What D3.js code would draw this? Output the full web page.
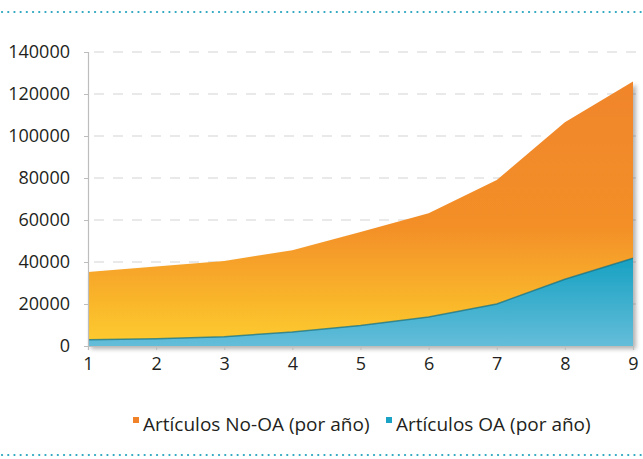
<!DOCTYPE html>
<html>
<head>
<meta charset="utf-8">
<script src="https://cdn.jsdelivr.net/npm/d3@7"></script>
<style>
body { margin: 0; background: #fff; }
text { font-family: "Open Sans", "Noto Sans", sans-serif; fill: #231f20; }
</style>
</head>
<body>
<svg id="viz"></svg>
<script>
var width = 643;
var height = 459;

// data
var years = [1, 2, 3, 4, 5, 6, 7, 8, 9];
var oaArticles = [3000, 3400, 4400, 6700, 9800, 13800, 20000, 31800, 41800];
var totalArticles = [35200, 37800, 40500, 45600, 54300, 63200, 79000, 106500, 126000];
var yTicks = [0, 20000, 40000, 60000, 80000, 100000, 120000, 140000];
var legendLabels = ["Artículos No-OA (por año)", "Artículos OA (por año)"];

var margin = {top: 52, right: 10, bottom: 113, left: 88};

var svg = d3.select("#viz")
    .attr("width", width)
    .attr("height", height);

var defs = svg.append("defs");

var gOrange = defs.append("linearGradient")
    .attr("id", "gradOrange")
    .attr("gradientUnits", "userSpaceOnUse")
    .attr("x1", 0).attr("x2", 0).attr("y1", 80).attr("y2", 346);
gOrange.append("stop").attr("offset", "0%").attr("stop-color", "#f0852a");
gOrange.append("stop").attr("offset", "55%").attr("stop-color", "#f38f28");
gOrange.append("stop").attr("offset", "100%").attr("stop-color", "#fdcd2e");

var gBlue = defs.append("linearGradient")
    .attr("id", "gradBlue")
    .attr("gradientUnits", "userSpaceOnUse")
    .attr("x1", 0).attr("x2", 0).attr("y1", 255).attr("y2", 346);
gBlue.append("stop").attr("offset", "0%").attr("stop-color", "#14a0c2");
gBlue.append("stop").attr("offset", "100%").attr("stop-color", "#64bdd9");

var shadow = defs.append("filter").attr("id", "shadow")
    .attr("x", "-5%").attr("y", "-5%").attr("width", "115%").attr("height", "115%");
shadow.append("feDropShadow")
    .attr("dx", 3).attr("dy", 3).attr("stdDeviation", 2)
    .attr("flood-color", "#000").attr("flood-opacity", 0.3);

var x = d3.scaleLinear()
    .domain([1, 9])
    .range([margin.left, 633]);

var y = d3.scaleLinear()
    .domain([0, 140000])
    .range([346, margin.top]);

// dotted frame lines
[12, 455].forEach(function (yy) {
    svg.append("line")
        .attr("x1", 2).attr("x2", width)
        .attr("y1", yy).attr("y2", yy)
        .attr("stroke", "#2aa6bf")
        .attr("stroke-width", 2.2)
        .attr("stroke-linecap", "round")
        .attr("stroke-dasharray", "0.1 6.1");
});

// grid
svg.append("g").selectAll("line")
    .data(yTicks.filter(function (d) { return d > 0; }))
    .enter().append("line")
    .attr("x1", x(1) + 6).attr("x2", width)
    .attr("y1", function (d) { return y(d); })
    .attr("y2", function (d) { return y(d); })
    .attr("stroke", "#d4d4d4")
    .attr("stroke-width", 1.2)
    .attr("stroke-dasharray", "10 9");

// areas
var total = years.map(function (d, i) { return {x: d, y: totalArticles[i]}; });
var oa = years.map(function (d, i) { return {x: d, y: oaArticles[i]}; });

var area = d3.area()
    .x(function (d) { return x(d.x); })
    .y0(y(0))
    .y1(function (d) { return y(d.y); });

var areas = svg.append("g").attr("filter", "url(#shadow)");

areas.append("path")
    .datum(total)
    .attr("d", area)
    .attr("fill", "url(#gradOrange)");

areas.append("path")
    .datum(oa)
    .attr("d", area)
    .attr("fill", "url(#gradBlue)");

var line = d3.line()
    .x(function (d) { return x(d.x); })
    .y(function (d) { return y(d.y); });

areas.append("path")
    .datum(oa)
    .attr("d", line)
    .attr("fill", "none")
    .attr("stroke", "#0f6f86")
    .attr("stroke-width", 1.5)
    .attr("opacity", 0.7);

// axes
var yAxis = d3.axisLeft(y)
    .tickValues(yTicks)
    .tickSize(4)
    .tickPadding(14)
    .tickFormat(d3.format("d"));

var yg = svg.append("g")
    .attr("transform", "translate(" + margin.left + ",0)")
    .call(yAxis);
yg.select(".domain").attr("stroke", "#bdbdbd").attr("stroke-width", 1.2);
yg.selectAll(".tick line").attr("stroke", "#bdbdbd");
yg.selectAll("text").style("font-size", "18px").attr("fill", "#231f20");

var xAxis = d3.axisBottom(x)
    .tickValues(years)
    .tickSize(4)
    .tickPadding(7)
    .tickFormat(d3.format("d"));

var xg = svg.append("g")
    .attr("transform", "translate(0," + y(0) + ")")
    .call(xAxis);
xg.select(".domain").attr("stroke", "#bdbdbd").attr("stroke-width", 1.2);
xg.selectAll(".tick line").attr("stroke", "#bdbdbd");
xg.selectAll("text").style("font-size", "18px").attr("fill", "#231f20");

// legend
var legendColors = ["#f0822a", "#1aa3c4"];
var legendX = [133, 386];

var legend = svg.append("g").selectAll("g")
    .data(legendLabels)
    .enter().append("g")
    .attr("transform", function (d, i) { return "translate(" + legendX[i] + ",417)"; });

legend.append("rect")
    .attr("width", 6).attr("height", 6)
    .attr("fill", function (d, i) { return legendColors[i]; });

legend.append("text")
    .attr("x", 10)
    .attr("y", 14)
    .style("font-size", "19px")
    .text(function (d) { return d; });
</script>
</body>
</html>
